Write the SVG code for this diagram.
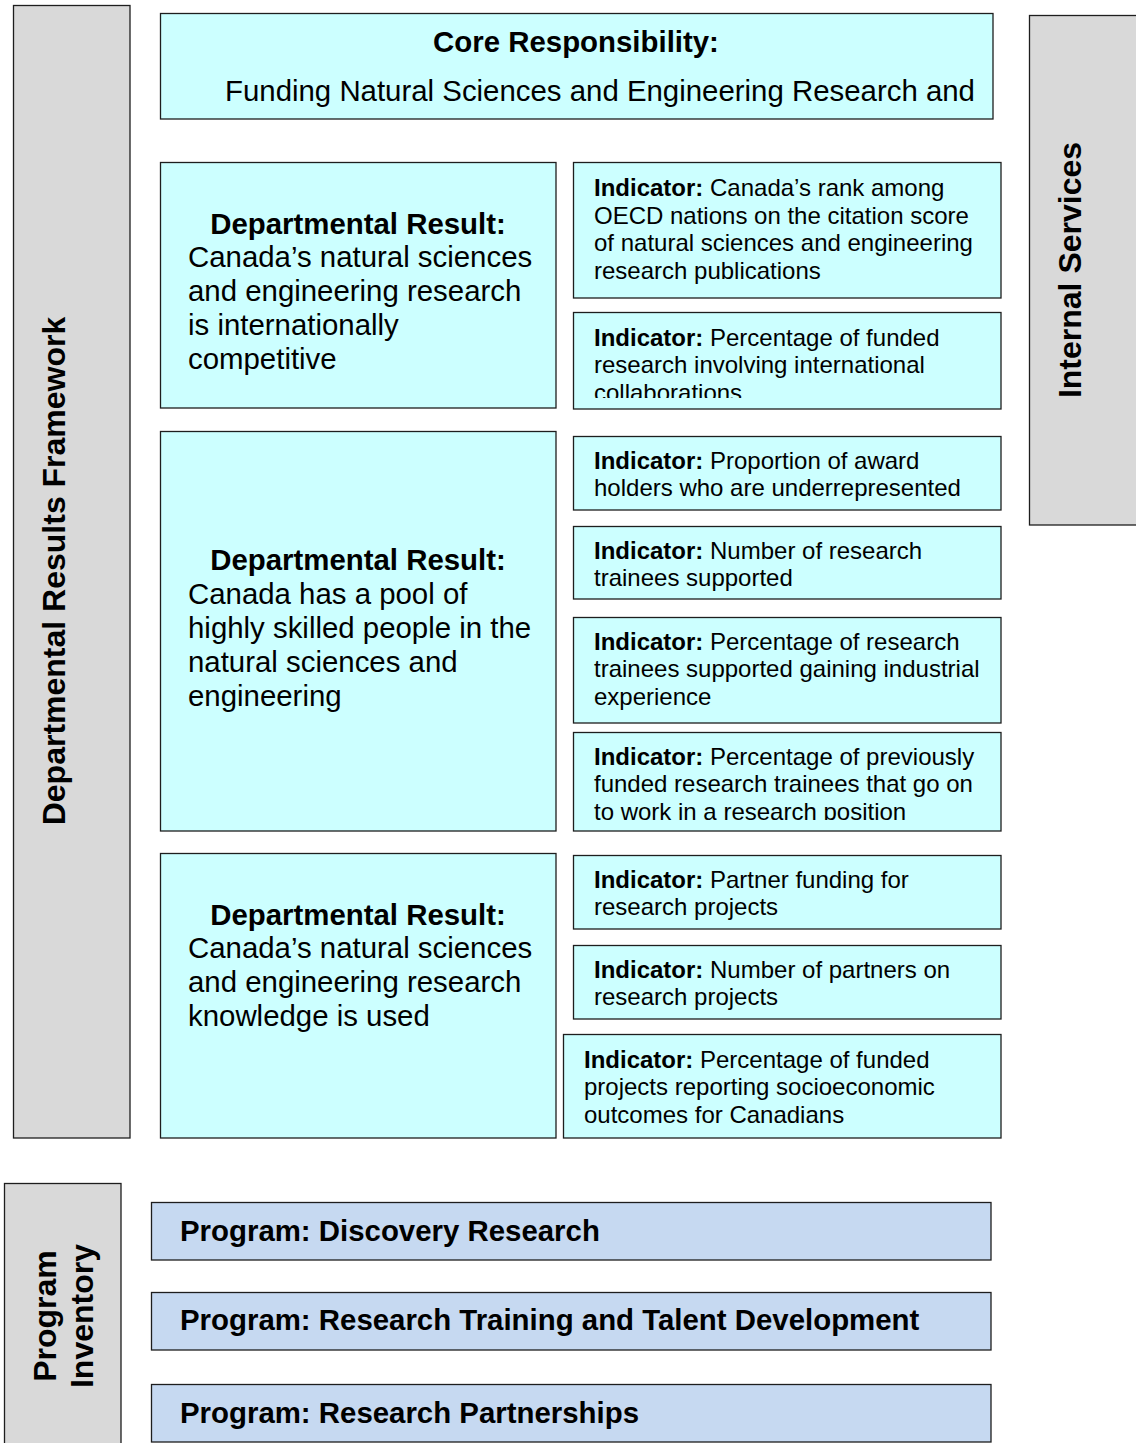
<svg xmlns="http://www.w3.org/2000/svg" width="1136" height="1443" viewBox="0 0 1136 1443">
  <style>
    text { font-family: "Liberation Sans", Arial, sans-serif; fill: #000; }
    .box { stroke: #1e1e1e; stroke-width: 1.3; }
    .side { fill: #d9d9d9; }
    .res { fill: #ccffff; }
    .prog { fill: #c6d9f1; }
    .big { font-size: 29.4px; }
    .lbl { font-size: 32px; font-weight: bold; }
    .ind { font-size: 24px; }
    .b { font-weight: bold; }
  </style>
  <defs>
    <clipPath id="clip-ind2"><rect x="573" y="312" width="428" height="86"/></clipPath>
    <clipPath id="clip-ind6"><rect x="573" y="732" width="428" height="88"/></clipPath>
  </defs>

  <!-- side labels -->
  <g id="drf">
    <rect class="box side" x="13.5" y="5.5" width="116.5" height="1132.5"/>
    <text class="lbl" text-anchor="middle" transform="translate(64.5 571) rotate(-90)">Departmental Results Framework</text>
  </g>
  <g id="internal-services">
    <rect class="box side" x="1029.5" y="15.5" width="112" height="509.5"/>
    <text class="lbl" text-anchor="middle" transform="translate(1081 270) rotate(-90)">Internal Services</text>
  </g>
  <g id="program-inventory">
    <rect class="box side" x="4.5" y="1183.5" width="116.5" height="270"/>
    <text class="lbl" text-anchor="middle" transform="translate(56 1316) rotate(-90)">Program</text>
    <text class="lbl" text-anchor="middle" transform="translate(93 1316) rotate(-90)">Inventory</text>
  </g>

  <!-- core responsibility -->
  <g id="core">
    <rect class="box res" x="160.5" y="13.5" width="832.5" height="105.5"/>
    <text class="big b" x="576" y="52" text-anchor="middle">Core Responsibility:</text>
    <text class="big" x="225" y="101">Funding Natural Sciences and Engineering Research and</text>
  </g>

  <!-- departmental results -->
  <g id="result-1">
    <rect class="box res" x="160.5" y="162.5" width="395.5" height="245.5"/>
    <text class="big b" x="358" y="234" text-anchor="middle">Departmental Result:</text>
    <text class="big" x="188" y="267">Canada’s natural sciences</text>
    <text class="big" x="188" y="301">and engineering research</text>
    <text class="big" x="188" y="335">is internationally</text>
    <text class="big" x="188" y="369">competitive</text>
  </g>
  <g id="result-2">
    <rect class="box res" x="160.5" y="431.5" width="395.5" height="399.5"/>
    <text class="big b" x="358" y="570" text-anchor="middle">Departmental Result:</text>
    <text class="big" x="188" y="604">Canada has a pool of</text>
    <text class="big" x="188" y="638">highly skilled people in the</text>
    <text class="big" x="188" y="672">natural sciences and</text>
    <text class="big" x="188" y="706">engineering</text>
  </g>
  <g id="result-3">
    <rect class="box res" x="160.5" y="853.5" width="395.5" height="284.5"/>
    <text class="big b" x="358" y="925" text-anchor="middle">Departmental Result:</text>
    <text class="big" x="188" y="958">Canada’s natural sciences</text>
    <text class="big" x="188" y="992">and engineering research</text>
    <text class="big" x="188" y="1026">knowledge is used</text>
  </g>

  <!-- indicators -->
  <g id="indicator-1">
    <rect class="box res" x="573.5" y="162.5" width="427.5" height="135.5"/>
    <text class="ind" x="594" y="196"><tspan class="b">Indicator:</tspan> Canada’s rank among</text>
    <text class="ind" x="594" y="223.6">OECD nations on the citation score</text>
    <text class="ind" x="594" y="251.2">of natural sciences and engineering</text>
    <text class="ind" x="594" y="278.8">research publications</text>
  </g>
  <g id="indicator-2">
    <rect class="box res" x="573.5" y="312.5" width="427.5" height="96.5"/>
    <g clip-path="url(#clip-ind2)">
      <text class="ind" x="594" y="345.6"><tspan class="b">Indicator:</tspan> Percentage of funded</text>
      <text class="ind" x="594" y="373.2">research involving international</text>
      <text class="ind" x="594" y="400.8">collaborations</text>
    </g>
  </g>
  <g id="indicator-3">
    <rect class="box res" x="573.5" y="436.5" width="427.5" height="73.5"/>
    <text class="ind" x="594" y="468.6"><tspan class="b">Indicator:</tspan> Proportion of award</text>
    <text class="ind" x="594" y="496.2">holders who are underrepresented</text>
  </g>
  <g id="indicator-4">
    <rect class="box res" x="573.5" y="526.5" width="427.5" height="72.5"/>
    <text class="ind" x="594" y="558.6"><tspan class="b">Indicator:</tspan> Number of research</text>
    <text class="ind" x="594" y="586.2">trainees supported</text>
  </g>
  <g id="indicator-5">
    <rect class="box res" x="573.5" y="617.5" width="427.5" height="105.5"/>
    <text class="ind" x="594" y="649.6"><tspan class="b">Indicator:</tspan> Percentage of research</text>
    <text class="ind" x="594" y="677.2">trainees supported gaining industrial</text>
    <text class="ind" x="594" y="704.8">experience</text>
  </g>
  <g id="indicator-6">
    <rect class="box res" x="573.5" y="732.5" width="427.5" height="98.5"/>
    <g clip-path="url(#clip-ind6)">
      <text class="ind" x="594" y="764.6"><tspan class="b">Indicator:</tspan> Percentage of previously</text>
      <text class="ind" x="594" y="792.2">funded research trainees that go on</text>
      <text class="ind" x="594" y="819.8">to work in a research position</text>
    </g>
  </g>
  <g id="indicator-7">
    <rect class="box res" x="573.5" y="855.5" width="427.5" height="73.5"/>
    <text class="ind" x="594" y="887.6"><tspan class="b">Indicator:</tspan> Partner funding for</text>
    <text class="ind" x="594" y="915.2">research projects</text>
  </g>
  <g id="indicator-8">
    <rect class="box res" x="573.5" y="945.5" width="427.5" height="73.5"/>
    <text class="ind" x="594" y="977.6"><tspan class="b">Indicator:</tspan> Number of partners on</text>
    <text class="ind" x="594" y="1005.2">research projects</text>
  </g>
  <g id="indicator-9">
    <rect class="box res" x="563.5" y="1034.5" width="437.5" height="103.5"/>
    <text class="ind" x="584" y="1067.6"><tspan class="b">Indicator:</tspan> Percentage of funded</text>
    <text class="ind" x="584" y="1095.2">projects reporting socioeconomic</text>
    <text class="ind" x="584" y="1122.8">outcomes for Canadians</text>
  </g>

  <!-- programs -->
  <g id="program-1">
    <rect class="box prog" x="151.5" y="1202.5" width="839.5" height="57.5"/>
    <text class="big b" x="180" y="1241.4">Program: Discovery Research</text>
  </g>
  <g id="program-2">
    <rect class="box prog" x="151.5" y="1292.5" width="839.5" height="57.5"/>
    <text class="big b" x="180" y="1330.4">Program: Research Training and Talent Development</text>
  </g>
  <g id="program-3">
    <rect class="box prog" x="151.5" y="1384.5" width="839.5" height="57.5"/>
    <text class="big b" x="180" y="1423.4">Program: Research Partnerships</text>
  </g>

  <!-- the framework has no linking lines -->
  <g id="connectors"/>
</svg>
